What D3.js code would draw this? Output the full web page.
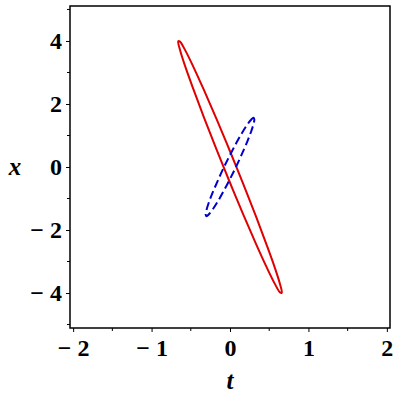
<!DOCTYPE html>
<html>
<head>
<meta charset="utf-8">
<script src="https://cdn.jsdelivr.net/npm/d3@7"></script>
<style>
  body { margin: 0; background: #fff; }
</style>
</head>
<body>
<div id="viz"></div>
<script>
// red curve, points (t, x)
const redT = [-0.660, -0.638, -0.572, -0.467, -0.330, -0.171, 0.000, 0.171, 0.330, 0.467, 0.572, 0.638,
              0.660, 0.638, 0.572, 0.467, 0.330, 0.171, 0.000, -0.171, -0.330, -0.467, -0.572, -0.638];
const redX = [3.99, 3.98, 3.71, 3.18, 2.43, 1.52, 0.50, -0.55, -1.56, -2.47, -3.20, -3.72,
              -3.99, -3.98, -3.71, -3.18, -2.43, -1.52, -0.50, 0.55, 1.56, 2.47, 3.20, 3.72];

// blue dashed curve (t, x)
const blueT = [0.310, 0.299, 0.269, 0.219, 0.155, 0.080, 0.000, -0.080, -0.155, -0.219, -0.269, -0.299,
               -0.310, -0.299, -0.269, -0.219, -0.155, -0.080, 0.000, 0.080, 0.155, 0.219, 0.269, 0.299];
const blueX = [1.51, 1.56, 1.50, 1.34, 1.09, 0.76, 0.38, -0.02, -0.43, -0.80, -1.12, -1.36,
               -1.51, -1.56, -1.50, -1.34, -1.09, -0.76, -0.38, 0.02, 0.43, 0.80, 1.12, 1.36];

// ticks
const tTicks = [-2, -1, 0, 1, 2];
const tMinor = [-1.5, -0.5, 0.5, 1.5];
const xTicks = [-4, -2, 0, 2, 4];
const xMinor = [-5, -3, -1, 1, 3, 5];

const width = 400, height = 400;
const margin = {top: 6, right: 10, bottom: 72, left: 70};
const serif = "'Liberation Serif', 'Times New Roman', serif";

const svg = d3.select("#viz")
  .append("svg")
  .attr("width", width)
  .attr("height", height);

const x = d3.scaleLinear()
  .domain([-2.04, 2.04])
  .range([margin.left, width - margin.right]);

const y = d3.scaleLinear()
  .domain([-5.11, 5.11])
  .range([height - margin.bottom, margin.top]);

const fmt = d => d < 0 ? "\u2212 " + Math.abs(d) : String(d);

// bottom axis
const gx = svg.append("g")
  .attr("transform", "translate(0," + (height - margin.bottom) + ")")
  .call(d3.axisBottom(x).tickValues(tTicks).tickFormat(fmt).tickSize(4).tickPadding(7));
gx.append("g").selectAll("line")
  .data(tMinor)
  .join("line")
  .attr("x1", d => x(d)).attr("x2", d => x(d))
  .attr("y1", 0).attr("y2", 3)
  .attr("stroke", "#000");

// left axis
const gy = svg.append("g")
  .attr("transform", "translate(" + margin.left + ",0)")
  .call(d3.axisLeft(y).tickValues(xTicks).tickFormat(fmt).tickSize(4).tickPadding(4));
gy.append("g").selectAll("line")
  .data(xMinor)
  .join("line")
  .attr("y1", d => y(d)).attr("y2", d => y(d))
  .attr("x1", 0).attr("x2", -3)
  .attr("stroke", "#000");

svg.selectAll(".domain").remove();
svg.selectAll(".tick line").attr("stroke", "#000");
[gx, gy].forEach(g => g.attr("font-family", serif));
svg.selectAll(".tick text")
  .attr("font-family", serif)
  .attr("font-size", 24)
  .attr("font-weight", "bold")
  .attr("fill", "#000")
  .style("white-space", "pre");

// frame
svg.append("rect")
  .attr("x", x.range()[0])
  .attr("y", y.range()[1])
  .attr("width", x.range()[1] - x.range()[0])
  .attr("height", y.range()[0] - y.range()[1])
  .attr("fill", "none")
  .attr("stroke", "#000")
  .attr("stroke-width", 1.5);

// curves
const line = d3.line()
  .x(d => x(d[0]))
  .y(d => y(d[1]))
  .curve(d3.curveCatmullRomClosed);

svg.append("path")
  .datum(redT.map((t, i) => [t, redX[i]]))
  .attr("fill", "none")
  .attr("stroke", "#e00000")
  .attr("stroke-width", 2)
  .attr("d", line);

svg.append("path")
  .datum(blueT.map((t, i) => [t, blueX[i]]))
  .attr("fill", "none")
  .attr("stroke", "#0000d0")
  .attr("stroke-width", 2)
  .attr("stroke-dasharray", "8,4")
  .attr("d", line);

// axis titles
svg.append("text")
  .attr("x", x(0))
  .attr("y", 389)
  .attr("text-anchor", "middle")
  .attr("font-family", serif)
  .attr("font-size", 25)
  .attr("font-weight", "bold")
  .attr("font-style", "italic")
  .text("t");

svg.append("text")
  .attr("x", 15)
  .attr("y", y(0) + 8)
  .attr("text-anchor", "middle")
  .attr("font-family", serif)
  .attr("font-size", 25)
  .attr("font-weight", "bold")
  .attr("font-style", "italic")
  .text("x");
</script>
</body>
</html>
